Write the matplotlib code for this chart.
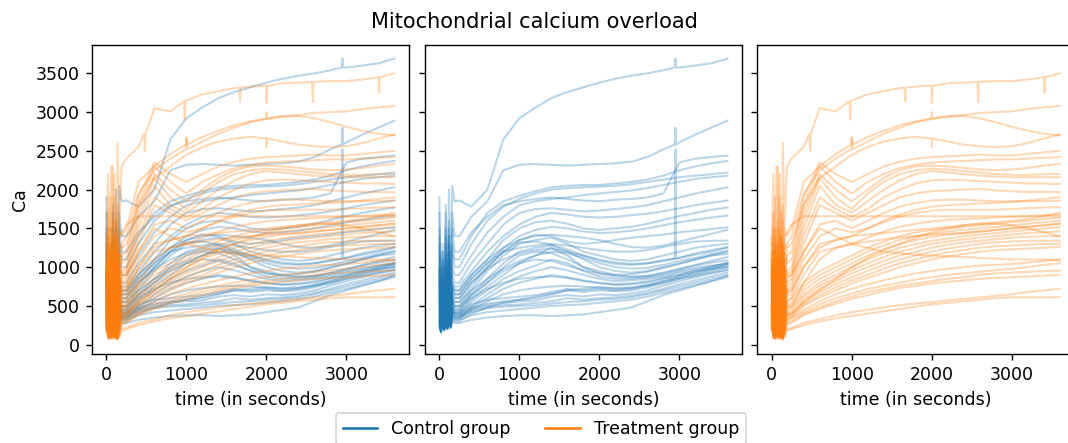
import matplotlib
matplotlib.use("Agg")
import matplotlib.pyplot as plt
from matplotlib.lines import Line2D
import numpy as np

# ---------------- data ----------------
t_early = [0, 20, 40, 60, 80, 100, 120, 140, 160, 190]
t_late = [250, 400, 600, 800, 1000, 1200, 1400, 1600, 1800, 2000, 2200, 2400,
          2600, 2800, 3000, 3200, 3400, 3600]

control_early = [
    [1900, 300, 1200, 400, 1700, 350, 2000, 500, 2050, 1850],
    [1500, 200, 1000, 300, 1400, 250, 1600, 400, 1700, 1400],
    [1200, 180, 900, 250, 1800, 300, 1300, 350, 1500, 1200],
    [1000, 250, 1300, 200, 1100, 300, 1500, 300, 1300, 1100],
    [800, 160, 1100, 220, 1300, 250, 1200, 350, 1200, 1000],
    [1700, 200, 800, 300, 900, 280, 1400, 300, 1000, 900],
    [600, 170, 700, 250, 1000, 220, 900, 260, 900, 800],
    [1300, 200, 650, 230, 800, 260, 1100, 300, 800, 750],
    [500, 180, 900, 200, 700, 240, 1000, 250, 750, 700],
    [700, 220, 600, 260, 900, 230, 800, 280, 700, 650],
    [450, 190, 1100, 210, 650, 250, 750, 240, 650, 600],
    [900, 200, 500, 230, 800, 220, 1200, 260, 600, 500],
    [400, 170, 700, 200, 600, 250, 900, 230, 620, 550],
    [1100, 210, 550, 240, 700, 230, 650, 250, 550, 450],
    [350, 180, 800, 190, 1200, 220, 700, 260, 560, 480],
    [600, 230, 450, 250, 500, 240, 1300, 250, 500, 420],
    [300, 200, 600, 220, 550, 210, 600, 240, 480, 400],
    [800, 190, 400, 210, 950, 230, 500, 250, 450, 380],
    [250, 170, 500, 200, 450, 220, 850, 230, 400, 350],
    [650, 220, 380, 240, 600, 250, 450, 260, 450, 420],
    [300, 200, 700, 210, 400, 230, 1000, 240, 430, 400],
    [1400, 190, 350, 220, 500, 210, 400, 250, 400, 380],
    [250, 180, 600, 200, 350, 220, 600, 230, 380, 360],
    [500, 170, 300, 210, 750, 200, 350, 240, 370, 350],
    [220, 160, 400, 190, 300, 210, 500, 220, 340, 320],
    [350, 160, 250, 180, 450, 200, 300, 210, 300, 280],
    [550, 210, 850, 230, 500, 240, 700, 250, 480, 450],
    [750, 190, 500, 220, 1000, 230, 600, 260, 550, 500],
    [1000, 200, 1200, 250, 800, 260, 1100, 280, 750, 650],
    [850, 220, 1000, 240, 1500, 250, 900, 300, 800, 700],
    [400, 190, 650, 210, 750, 230, 1400, 260, 600, 550],
    [280, 170, 450, 190, 350, 210, 550, 220, 320, 300],
    [950, 210, 750, 240, 1100, 250, 800, 280, 700, 600],
    [320, 180, 550, 200, 400, 220, 650, 230, 350, 330],
]

control_late = [
    [1860, 1780, 2000, 2650, 2920, 3060, 3180, 3260, 3320, 3380, 3430, 3470, 3500, 3540, 3575, 3600, 3630, 3690],
    [1400, 1650, 1850, 2250, 2320, 2330, 2320, 2310, 2320, 2330, 2340, 2360, 2420, 2520, 2610, 2710, 2800, 2890],
    [1200, 1450, 1650, 1800, 1850, 1880, 1900, 1880, 1860, 1850, 1870, 1880, 1900, 1950, 2350, 2400, 2420, 2440],
    [1100, 1400, 1700, 1850, 1920, 1980, 2030, 2050, 2060, 2060, 2080, 2100, 2130, 2180, 2250, 2300, 2340, 2370],
    [1000, 1300, 1600, 1780, 1880, 1950, 2000, 2020, 2030, 2040, 2050, 2070, 2100, 2130, 2160, 2180, 2200, 2220],
    [900, 1150, 1450, 1650, 1800, 1850, 1880, 1900, 1930, 1950, 1970, 1990, 2020, 2060, 2100, 2140, 2160, 2180],
    [800, 1050, 1300, 1550, 1700, 1750, 1760, 1740, 1720, 1730, 1750, 1770, 1800, 1850, 1900, 1950, 1990, 2030],
    [750, 950, 1200, 1400, 1550, 1650, 1700, 1680, 1650, 1640, 1650, 1670, 1690, 1720, 1760, 1800, 1830, 1860],
    [700, 900, 1100, 1350, 1500, 1580, 1600, 1560, 1500, 1480, 1500, 1520, 1560, 1610, 1660, 1700, 1740, 1770],
    [650, 850, 1050, 1250, 1400, 1480, 1520, 1500, 1460, 1440, 1450, 1470, 1500, 1540, 1580, 1610, 1640, 1665],
    [600, 800, 1000, 1200, 1350, 1420, 1400, 1330, 1300, 1320, 1350, 1380, 1400, 1420, 1450, 1470, 1490, 1515],
    [500, 700, 950, 1150, 1300, 1350, 1380, 1300, 1200, 1150, 1100, 1080, 1100, 1150, 1200, 1250, 1280, 1300],
    [550, 750, 1000, 1200, 1320, 1330, 1290, 1230, 1150, 1080, 1040, 1030, 1050, 1090, 1120, 1180, 1220, 1260],
    [450, 650, 850, 1050, 1200, 1250, 1280, 1200, 1100, 1000, 950, 930, 950, 1000, 1050, 1100, 1150, 1170],
    [480, 620, 800, 1000, 1150, 1200, 1180, 1100, 1000, 920, 880, 870, 890, 930, 980, 1030, 1080, 1130],
    [420, 580, 750, 900, 1050, 1150, 1250, 1150, 1000, 950, 900, 880, 880, 920, 970, 1020, 1060, 1090],
    [400, 550, 700, 850, 950, 1020, 1100, 1050, 950, 880, 850, 850, 870, 900, 950, 990, 1020, 1050],
    [380, 500, 650, 780, 880, 950, 1000, 960, 900, 850, 820, 830, 850, 880, 930, 970, 1010, 1040],
    [350, 480, 600, 720, 800, 850, 900, 870, 830, 800, 780, 790, 820, 860, 900, 950, 980, 1000],
    [420, 520, 580, 600, 620, 640, 680, 720, 700, 720, 700, 720, 760, 820, 880, 930, 980, 1040],
    [400, 480, 530, 560, 580, 600, 650, 700, 680, 700, 690, 700, 740, 790, 850, 900, 950, 1000],
    [380, 460, 510, 540, 560, 570, 620, 640, 620, 650, 640, 660, 700, 760, 820, 870, 920, 960],
    [360, 440, 490, 510, 520, 540, 560, 600, 580, 600, 610, 630, 670, 720, 780, 830, 880, 930],
    [350, 420, 470, 490, 500, 510, 530, 550, 560, 580, 590, 610, 650, 700, 750, 800, 850, 900],
    [320, 380, 420, 440, 460, 480, 500, 510, 520, 540, 560, 580, 620, 670, 720, 770, 820, 870],
    [280, 320, 350, 370, 380, 380, 370, 380, 390, 420, 450, 480, 560, 640, 700, 760, 820, 890],
    [450, 600, 720, 800, 850, 870, 880, 860, 820, 790, 770, 780, 800, 850, 900, 950, 1000, 1060],
    [500, 650, 800, 950, 1050, 1100, 1080, 1020, 960, 920, 900, 910, 940, 990, 1040, 1100, 1150, 1200],
    [650, 850, 1050, 1200, 1250, 1280, 1300, 1280, 1250, 1220, 1200, 1200, 1220, 1260, 1300, 1330, 1340, 1343],
    [700, 900, 1100, 1250, 1350, 1400, 1420, 1400, 1380, 1350, 1300, 1260, 1250, 1280, 1330, 1380, 1430, 1480],
    [550, 700, 850, 980, 1080, 1150, 1200, 1180, 1120, 1050, 1000, 980, 990, 1030, 1080, 1120, 1170, 1210],
    [300, 400, 480, 540, 580, 620, 660, 700, 720, 740, 730, 740, 770, 820, 870, 920, 970, 1020],
    [600, 800, 980, 1100, 1180, 1220, 1240, 1200, 1150, 1100, 1060, 1040, 1050, 1080, 1120, 1160, 1200, 1250],
    [330, 450, 560, 650, 700, 730, 750, 760, 750, 740, 720, 730, 760, 800, 850, 890, 930, 970],
]

treatment_early = [
    [1300, 2200, 500, 2300, 800, 1900, 600, 2600, 1500, 2300],
    [1100, 300, 1900, 400, 2300, 500, 1700, 300, 1500, 1400],
    [600, 1700, 300, 1500, 400, 2200, 350, 1800, 600, 1300],
    [1400, 250, 1200, 300, 1600, 200, 1400, 250, 1300, 1250],
    [800, 1500, 200, 1300, 300, 1500, 250, 1600, 700, 1150],
    [1200, 200, 1400, 250, 1100, 300, 1300, 200, 1200, 1050],
    [500, 1300, 180, 1200, 250, 1400, 200, 1100, 500, 950],
    [1000, 150, 1100, 200, 1300, 180, 1200, 150, 1000, 900],
    [450, 1200, 150, 1000, 200, 1100, 180, 1300, 400, 850],
    [900, 200, 1000, 150, 1200, 200, 900, 120, 900, 800],
    [400, 1100, 200, 900, 180, 1000, 150, 1100, 350, 750],
    [1300, 150, 1200, 200, 1100, 250, 1350, 180, 1400, 1450],
    [700, 1000, 120, 1100, 200, 900, 100, 1200, 300, 700],
    [850, 180, 900, 120, 1000, 150, 800, 100, 850, 650],
    [350, 900, 150, 800, 120, 1000, 130, 900, 250, 550],
    [750, 120, 850, 150, 900, 100, 1000, 90, 700, 500],
    [300, 800, 100, 700, 150, 900, 110, 800, 200, 480],
    [650, 140, 750, 100, 800, 120, 700, 80, 600, 450],
    [280, 700, 90, 900, 130, 750, 100, 1000, 180, 420],
    [600, 100, 650, 120, 700, 90, 900, 70, 500, 400],
    [250, 650, 110, 600, 100, 800, 90, 700, 160, 380],
    [550, 90, 600, 80, 650, 110, 600, 100, 450, 360],
    [220, 600, 80, 550, 120, 650, 80, 600, 140, 340],
    [950, 200, 1100, 250, 1000, 300, 1200, 250, 700, 480],
    [1100, 250, 1300, 300, 1250, 350, 1400, 300, 900, 680],
    [500, 100, 550, 110, 600, 90, 650, 100, 400, 330],
    [200, 550, 90, 500, 100, 600, 80, 550, 120, 310],
    [450, 80, 500, 90, 550, 80, 500, 70, 350, 280],
    [180, 500, 70, 450, 90, 550, 70, 500, 100, 260],
    [1000, 300, 1500, 400, 1200, 300, 1400, 350, 1100, 880],
    [400, 90, 450, 80, 500, 100, 400, 70, 250, 200],
    [160, 450, 80, 400, 70, 500, 90, 400, 90, 180],
    [900, 200, 1000, 180, 1100, 150, 950, 200, 800, 620],
    [350, 900, 150, 850, 200, 1000, 150, 900, 300, 580],
    [700, 120, 800, 150, 750, 130, 850, 100, 500, 380],
]

treatment_late = [
    [2400, 2550, 3050, 3010, 3150, 3230, 3270, 3310, 3330, 3340, 3370, 3380, 3390, 3400, 3400, 3420, 3450, 3500],
    [1500, 2100, 2300, 2460, 2580, 2680, 2760, 2830, 2880, 2920, 2950, 2960, 2990, 3000, 3010, 3040, 3060, 3080],
    [1400, 1950, 2250, 2400, 2520, 2620, 2720, 2800, 2870, 2910, 2940, 2950, 2920, 2870, 2810, 2760, 2720, 2700],
    [1300, 1800, 2150, 2300, 2450, 2550, 2620, 2660, 2680, 2660, 2620, 2580, 2560, 2550, 2560, 2600, 2660, 2710],
    [1200, 1900, 2350, 2200, 2100, 2200, 2300, 2360, 2400, 2420, 2430, 2440, 2450, 2440, 2440, 2460, 2480, 2500],
    [1100, 1800, 2300, 2100, 1950, 2100, 2200, 2280, 2320, 2350, 2360, 2370, 2380, 2390, 2390, 2400, 2410, 2420],
    [1000, 1700, 2200, 2000, 1850, 2000, 2150, 2250, 2300, 2310, 2300, 2280, 2260, 2250, 2260, 2280, 2310, 2330],
    [950, 1600, 2150, 1900, 1750, 1950, 2100, 2200, 2250, 2270, 2260, 2240, 2220, 2200, 2190, 2190, 2200, 2200],
    [900, 1500, 2050, 1800, 1700, 1850, 2000, 2120, 2200, 2240, 2220, 2200, 2180, 2170, 2160, 2160, 2160, 2160],
    [850, 1400, 1900, 1750, 1650, 1750, 1900, 2000, 2080, 2120, 2130, 2120, 2110, 2100, 2090, 2080, 2080, 2073],
    [800, 1300, 1800, 1700, 1600, 1700, 1800, 1900, 1950, 1980, 1990, 2000, 2010, 1990, 1980, 1970, 1970, 1966],
    [1550, 1657, 1657, 1657, 1657, 1657, 1657, 1657, 1657, 1657, 1657, 1657, 1657, 1657, 1657, 1657, 1657, 1657],
    [750, 1200, 1550, 1600, 1500, 1600, 1700, 1780, 1830, 1860, 1870, 1870, 1860, 1850, 1850, 1850, 1850, 1858],
    [700, 1100, 1400, 1500, 1450, 1500, 1580, 1650, 1700, 1730, 1740, 1740, 1740, 1740, 1750, 1760, 1770, 1773],
    [600, 800, 950, 1050, 1150, 1250, 1330, 1400, 1450, 1480, 1500, 1520, 1540, 1560, 1580, 1600, 1620, 1640],
    [550, 750, 900, 1000, 1100, 1200, 1280, 1350, 1400, 1430, 1460, 1480, 1500, 1520, 1540, 1560, 1580, 1600],
    [500, 700, 850, 950, 1050, 1150, 1230, 1300, 1350, 1390, 1420, 1440, 1460, 1480, 1500, 1520, 1540, 1560],
    [480, 650, 800, 900, 1000, 1100, 1180, 1250, 1300, 1340, 1370, 1400, 1420, 1440, 1460, 1480, 1500, 1515],
    [450, 620, 760, 860, 960, 1050, 1130, 1200, 1250, 1300, 1330, 1360, 1380, 1400, 1420, 1440, 1450, 1460],
    [420, 580, 720, 820, 920, 1000, 1080, 1150, 1200, 1250, 1290, 1320, 1340, 1360, 1380, 1390, 1400, 1400],
    [400, 550, 680, 780, 870, 950, 1030, 1100, 1150, 1200, 1240, 1270, 1300, 1320, 1330, 1340, 1340, 1343],
    [380, 520, 640, 740, 830, 900, 980, 1050, 1100, 1150, 1190, 1220, 1250, 1270, 1280, 1290, 1300, 1300],
    [360, 500, 610, 700, 790, 860, 930, 1000, 1050, 1100, 1140, 1170, 1200, 1220, 1230, 1240, 1250, 1260],
    [500, 800, 1100, 1250, 1300, 1330, 1360, 1380, 1400, 1420, 1430, 1440, 1460, 1480, 1500, 1520, 1540, 1560],
    [700, 1000, 1250, 1350, 1400, 1420, 1440, 1460, 1480, 1500, 1520, 1540, 1560, 1580, 1600, 1620, 1660, 1700],
    [350, 450, 560, 650, 720, 780, 830, 880, 920, 950, 980, 1000, 1020, 1030, 1040, 1060, 1080, 1100],
    [330, 420, 520, 600, 660, 720, 760, 800, 840, 870, 900, 920, 940, 960, 980, 1000, 1030, 1050],
    [300, 400, 480, 560, 620, 680, 720, 760, 790, 820, 850, 870, 900, 920, 930, 940, 950, 957],
    [280, 380, 460, 530, 590, 640, 690, 730, 760, 790, 810, 830, 850, 860, 870, 880, 890, 900],
    [900, 1200, 1500, 1400, 1300, 1250, 1200, 1180, 1160, 1150, 1140, 1130, 1120, 1110, 1100, 1100, 1100, 1090],
    [220, 280, 330, 380, 420, 450, 480, 510, 530, 550, 570, 590, 610, 630, 650, 680, 700, 720],
    [200, 250, 300, 340, 370, 400, 430, 460, 490, 520, 540, 560, 580, 600, 610, 610, 610, 614],
    [650, 1000, 1300, 1350, 1400, 1500, 1600, 1680, 1740, 1780, 1800, 1810, 1820, 1830, 1840, 1860, 1880, 1900],
    [600, 900, 1200, 1250, 1300, 1380, 1460, 1520, 1560, 1590, 1610, 1620, 1630, 1640, 1650, 1660, 1670, 1680],
    [400, 550, 700, 850, 1000, 1120, 1220, 1300, 1380, 1450, 1500, 1540, 1560, 1560, 1540, 1500, 1450, 1400],
]

# narrow spikes / dips: (series index, time, base value, peak value)
control_spikes = [(0, 2950, 3575, 3690), (1, 2950, 2580, 2800), (12, 2950, 1110, 2520)]
treatment_spikes = [(0, 480, 2720, 2500), (0, 980, 3140, 2900), (0, 1670, 3315, 3140),
                    (0, 2000, 3340, 3120), (0, 2580, 3390, 3130), (0, 3410, 3450, 3250),
                    (1, 1000, 2580, 2680), (1, 2000, 2920, 3000), (3, 2000, 2660, 2550),
                    (2, 1000, 2520, 2650)]

group_names = ["Control group", "Treatment group"]
colors = ["tab:blue", "tab:orange"]


def build(early, late, spikes):
    out = []
    for i, (e, l) in enumerate(zip(early, late)):
        t = list(t_early) + list(t_late)
        v = list(e) + list(l)
        for (j, ts, base, peak) in spikes:
            if j == i:
                t += [ts - 8, ts, ts + 8]
                v += [base, peak, base]
        order = np.argsort(t, kind="stable")
        out.append((np.asarray(t)[order], np.asarray(v)[order]))
    return out


groups = [build(control_early, control_late, control_spikes),
          build(treatment_early, treatment_late, treatment_spikes)]

# ---------------- figure ----------------
W, H = 1068, 443
DPI = 125
fig, axes = plt.subplots(1, 3, sharey=True, figsize=(W / DPI, H / DPI), dpi=DPI)

ax_w = 316.8 / W
ax_h = (354 - 44.5) / H
bottom = 1 - 354 / H
lefts = [92 / W, 425 / W, 757.3 / W]
for ax, lx in zip(axes, lefts):
    ax.set_position([lx, bottom, ax_w, ax_h])

lw = 1.2
alpha = 0.3
for gi, series in enumerate(groups):
    for t, v in series:
        axes[0].plot(t, v, color=colors[gi], alpha=alpha, lw=lw)
        axes[gi + 1].plot(t, v, color=colors[gi], alpha=alpha, lw=lw)

for ax in axes:
    ax.set_xlim(-180, 3780)
    ax.set_xticks([0, 1000, 2000, 3000])
    ax.set_xlabel("time (in seconds)")
axes[0].set_ylim(-120, 3872)
axes[0].set_yticks([0, 500, 1000, 1500, 2000, 2500, 3000, 3500])
axes[0].set_ylabel("Ca")

fig.suptitle("Mitochondrial calcium overload", y=1 - 12 / H, va="top", fontsize=12)

handles = [Line2D([0], [0], color=c, lw=1.5) for c in colors]
fig.legend(handles, group_names, loc="upper center", ncol=2,
           bbox_to_anchor=(541 / W, 1 - 413 / H), borderaxespad=0)

fig.savefig("out.png", dpi=DPI)
